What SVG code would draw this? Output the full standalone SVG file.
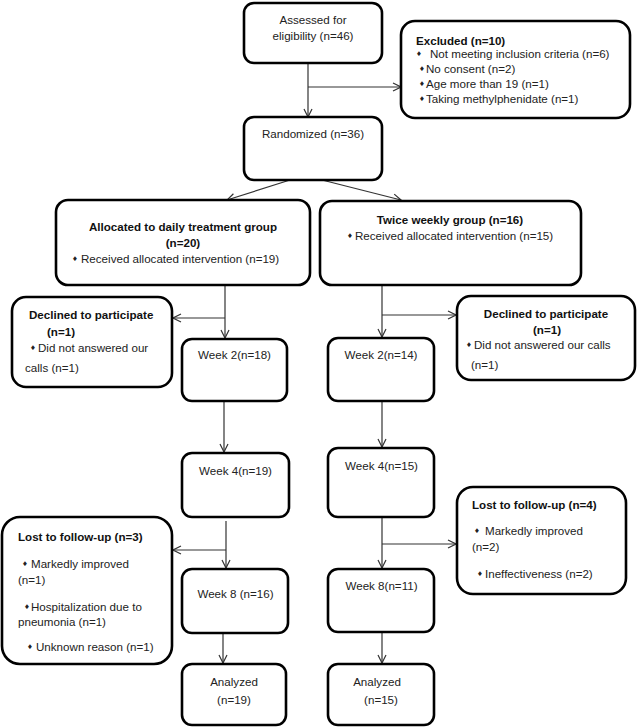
<svg xmlns="http://www.w3.org/2000/svg" width="638" height="728" viewBox="0 0 638 728">
<style>
.box{fill:#fff;stroke:#000;stroke-width:2.6}
.t{font-family:"Liberation Sans",Arial,sans-serif;font-size:11.6px;fill:#222}
.b{font-weight:bold;fill:#111}
.m{text-anchor:middle}
.bu{font-family:"DejaVu Sans",sans-serif;font-size:6.5px;fill:#222}
.c{fill:none;stroke:#333;stroke-width:1.2}
</style>
<defs>
<marker id="ah" viewBox="0 0 10 10" refX="9" refY="5" markerWidth="10" markerHeight="10" markerUnits="userSpaceOnUse" orient="auto">
<path d="M1,1 L9,5 L1,9" fill="none" stroke="#333" stroke-width="1.2"/>
</marker>
</defs>
<rect width="638" height="728" fill="#fff"/>
<g id="connectors">
<path class="c" d="M308,63 V117" marker-end="url(#ah)"/>
<path class="c" d="M308,87 H401" marker-end="url(#ah)"/>
<path class="c" d="M290,180 L227,200" marker-end="url(#ah)"/>
<path class="c" d="M322,180 L401,200" marker-end="url(#ah)"/>
<path class="c" d="M225,285 V338" marker-end="url(#ah)"/>
<path class="c" d="M225,318 H173" marker-end="url(#ah)"/>
<path class="c" d="M382,285 V337" marker-end="url(#ah)"/>
<path class="c" d="M382,315 H456" marker-end="url(#ah)"/>
<path class="c" d="M224,401 V452" marker-end="url(#ah)"/>
<path class="c" d="M382,401 V447" marker-end="url(#ah)"/>
<path class="c" d="M226,521 V568" marker-end="url(#ah)"/>
<path class="c" d="M226,550 H173" marker-end="url(#ah)"/>
<path class="c" d="M382,517 V568" marker-end="url(#ah)"/>
<path class="c" d="M382,544 H456" marker-end="url(#ah)"/>
<path class="c" d="M223,633 V663" marker-end="url(#ah)"/>
<path class="c" d="M382,632 V663" marker-end="url(#ah)"/>
</g>
<g id="assessed">
<rect class="box" x="244" y="3" width="138" height="60" rx="10"/>
<text class="t m" x="313" y="24">Assessed for</text>
<text class="t m" x="313" y="40">eligibility (n=46)</text>
</g>
<g id="excluded">
<rect class="box" x="401" y="21" width="229" height="97" rx="14"/>
<text class="t b" x="416" y="45">Excluded (n=10)</text>
<text class="bu" x="416" y="56">♦</text><text class="t" x="430" y="58">Not meeting inclusion criteria (n=6)</text>
<text class="bu" x="419" y="71">♦</text><text class="t" x="426" y="73">No consent (n=2)</text>
<text class="bu" x="419" y="86">♦</text><text class="t" x="426" y="88">Age more than 19 (n=1)</text>
<text class="bu" x="419" y="101">♦</text><text class="t" x="426" y="103">Taking methylphenidate (n=1)</text>
</g>
<g id="randomized">
<rect class="box" x="244" y="117" width="138" height="63" rx="10"/>
<text class="t m" x="313" y="138">Randomized (n=36)</text>
</g>
<g id="daily">
<rect class="box" x="56" y="200" width="254" height="85" rx="12"/>
<text class="t b m" x="183" y="231">Allocated to daily treatment group</text>
<text class="t b m" x="183" y="247">(n=20)</text>
<text class="bu" x="72" y="261">♦</text><text class="t" x="81" y="263">Received allocated intervention (n=19)</text>
</g>
<g id="twice">
<rect class="box" x="320" y="201" width="261" height="84" rx="12"/>
<text class="t b m" x="450" y="224">Twice weekly group (n=16)</text>
<text class="bu" x="347" y="238">♦</text><text class="t" x="355" y="240">Received allocated intervention (n=15)</text>
</g>
<g id="declined-left">
<rect class="box" x="12" y="297" width="160" height="90" rx="14"/>
<text class="t b" x="29" y="319">Declined to participate</text>
<text class="t b" x="47" y="336">(n=1)</text>
<text class="bu" x="30" y="350">♦</text><text class="t" x="38" y="352">Did not answered our</text>
<text class="t" x="25" y="372">calls (n=1)</text>
</g>
<g id="declined-right">
<rect class="box" x="457" y="296" width="178" height="84" rx="14"/>
<text class="t b m" x="546" y="318">Declined to participate</text>
<text class="t b m" x="547" y="334">(n=1)</text>
<text class="bu" x="466" y="347">♦</text><text class="t" x="474" y="349">Did not answered our calls</text>
<text class="t" x="471" y="369">(n=1)</text>
</g>
<g id="week2-left">
<rect class="box" x="182" y="339" width="105" height="62" rx="10"/>
<text class="t m" x="234.5" y="359">Week 2(n=18)</text>
</g>
<g id="week2-right">
<rect class="box" x="328" y="338" width="106" height="63" rx="10"/>
<text class="t m" x="381" y="359">Week 2(n=14)</text>
</g>
<g id="week4-left">
<rect class="box" x="182" y="453" width="107" height="64" rx="10"/>
<text class="t m" x="235.5" y="475">Week 4(n=19)</text>
</g>
<g id="week4-right">
<rect class="box" x="328" y="448" width="106" height="69" rx="10"/>
<text class="t m" x="381.5" y="470">Week 4(n=15)</text>
</g>
<g id="lost-left">
<rect class="box" x="2" y="517" width="170" height="147" rx="18"/>
<text class="t b" x="18" y="541">Lost to follow-up (n=3)</text>
<text class="bu" x="22" y="566">♦</text><text class="t" x="31" y="568">Markedly improved</text>
<text class="t" x="18" y="584">(n=1)</text>
<text class="bu" x="24" y="609">♦</text><text class="t" x="31" y="611">Hospitalization due to</text>
<text class="t" x="18" y="626">pneumonia (n=1)</text>
<text class="bu" x="27" y="649">♦</text><text class="t" x="36" y="651">Unknown reason (n=1)</text>
</g>
<g id="lost-right">
<rect class="box" x="457" y="487" width="169" height="107" rx="16"/>
<text class="t b" x="472" y="509">Lost to follow-up (n=4)</text>
<text class="bu" x="474" y="533">♦</text><text class="t" x="485" y="535">Markedly improved</text>
<text class="t" x="472" y="551">(n=2)</text>
<text class="bu" x="477" y="576">♦</text><text class="t" x="485" y="578">Ineffectiveness (n=2)</text>
</g>
<g id="week8-left">
<rect class="box" x="182" y="569" width="106" height="64" rx="10"/>
<text class="t m" x="235.5" y="598">Week 8 (n=16)</text>
</g>
<g id="week8-right">
<rect class="box" x="328" y="569" width="106" height="63" rx="10"/>
<text class="t m" x="381.5" y="590">Week 8(n=11)</text>
</g>
<g id="analyzed-left">
<rect class="box" x="182" y="664" width="104" height="61" rx="10"/>
<text class="t m" x="234" y="686">Analyzed</text>
<text class="t m" x="234" y="704">(n=19)</text>
</g>
<g id="analyzed-right">
<rect class="box" x="328" y="664" width="106" height="61" rx="10"/>
<text class="t m" x="377" y="686">Analyzed</text>
<text class="t m" x="381" y="704">(n=15)</text>
</g>
</svg>
